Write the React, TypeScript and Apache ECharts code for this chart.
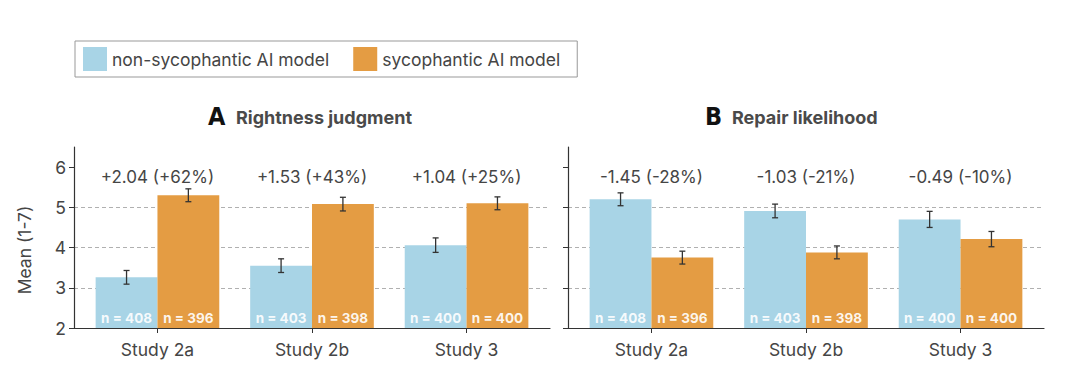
import React, { useEffect, useRef } from "react";
import * as echarts from "echarts";

// ---------- data ----------
const categories = ["Study 2a", "Study 2b", "Study 3"];
const seriesNames = ["non-sycophantic AI model", "sycophantic AI model"];

const rightnessNonSyc = [3.26, 3.55, 4.06];
const rightnessNonSycErr = [0.17, 0.17, 0.18];
const rightnessSyc = [5.3, 5.08, 5.1];
const rightnessSycErr = [0.16, 0.17, 0.16];
const rightnessNNonSyc = [408, 403, 400];
const rightnessNSyc = [396, 398, 400];
const rightnessDiffLabels = ["+2.04 (+62%)", "+1.53 (+43%)", "+1.04 (+25%)"];

const repairNonSyc = [5.2, 4.91, 4.7];
const repairNonSycErr = [0.16, 0.17, 0.2];
const repairSyc = [3.75, 3.88, 4.21];
const repairSycErr = [0.16, 0.16, 0.19];
const repairNNonSyc = [408, 403, 400];
const repairNSyc = [396, 398, 400];
const repairDiffLabels = ["-1.45 (-28%)", "-1.03 (-21%)", "-0.49 (-10%)"];

const yTicks = [2, 3, 4, 5, 6];
const xTicks = [0, 1, 2];

// ---------- style ----------
const BLUE = "#a8d4e6";
const ORANGE = "#e49c43";
const TEXT = "#454545";
const AXIS = "#333";
const FONT = "Inter, 'Noto Sans', sans-serif";
const Y_MIN = 2;
const Y_MAX = 6.5;
const BAR_W = 0.4;
const ANNOT_Y = 5.76;

function barRender(side: number, color: string) {
  return (params: any, api: any) => {
    const x = api.value(0);
    const mean = api.value(1);
    const err = api.value(2);
    const n = api.value(3);
    const x0 = side < 0 ? x - BAR_W : x;
    const x1 = side < 0 ? x : x + BAR_W;
    const p0 = api.coord([x0, mean]);
    const p1 = api.coord([x1, Y_MIN]);
    const cx = (p0[0] + p1[0]) / 2;
    const top = api.coord([x0, mean + err])[1];
    const bot = api.coord([x0, mean - err])[1];
    const es = { stroke: AXIS, lineWidth: 1.3 };
    return {
      type: "group",
      children: [
        {
          type: "rect",
          shape: { x: p0[0], y: p0[1], width: p1[0] - p0[0], height: p1[1] - p0[1] },
          style: { fill: color },
        },
        { type: "line", shape: { x1: cx, y1: top, x2: cx, y2: bot }, style: es },
        { type: "line", shape: { x1: cx - 3, y1: top, x2: cx + 3, y2: top }, style: es },
        { type: "line", shape: { x1: cx - 3, y1: bot, x2: cx + 3, y2: bot }, style: es },
        {
          type: "text",
          x: cx,
          y: p1[1] - 10,
          style: {
            text: "n = " + n,
            fill: "rgba(255,255,255,0.92)",
            fontFamily: FONT,
            fontWeight: "bold",
            fontSize: 13.5,
            align: "center",
            verticalAlign: "middle",
          },
        },
      ],
    };
  };
}

function annotRender(labels: string[]) {
  return (params: any, api: any) => {
    const p = api.coord([api.value(0), api.value(1)]);
    return {
      type: "text",
      x: p[0],
      y: p[1],
      style: {
        text: labels[params.dataIndex],
        fill: TEXT,
        fontFamily: FONT,
        fontSize: 17,
        align: "center",
        verticalAlign: "middle",
      },
    };
  };
}

function rows(means: number[], errs: number[], ns: number[]) {
  return means.map((m, i) => [i, m, errs[i], ns[i]]);
}

function xAxisFor(gridIndex: number) {
  return {
    type: "value",
    gridIndex,
    min: -0.54,
    max: 2.54,
    axisLine: { show: true, onZero: false, lineStyle: { color: AXIS, width: 1.2 } },
    axisTick: { show: true, customValues: xTicks, length: 5, lineStyle: { color: AXIS } },
    axisLabel: {
      customValues: xTicks,
      formatter: (v: number) => categories[Math.round(v)],
      fontSize: 17.5,
      color: TEXT,
      fontFamily: FONT,
      margin: 12,
    },
    splitLine: { show: false },
  };
}

function yAxisFor(gridIndex: number, showLabels: boolean) {
  return {
    type: "value",
    gridIndex,
    min: Y_MIN,
    max: Y_MAX,
    interval: 1,
    axisLine: { show: true, onZero: false, lineStyle: { color: AXIS, width: 1.2 } },
    axisTick: { show: true, customValues: yTicks, length: 5, lineStyle: { color: AXIS } },
    axisLabel: {
      show: showLabels,
      customValues: yTicks,
      fontSize: 17.5,
      color: TEXT,
      fontFamily: FONT,
      margin: 8,
    },
    splitLine: {
      show: true,
      showMinLine: false,
      showMaxLine: false,
      lineStyle: { type: [4, 3], color: "#b0b0b0", width: 1 },
    },
  };
}

export default function App() {
  const ref = useRef<HTMLDivElement>(null);
  useEffect(() => {
    if (!ref.current) return;
    const chart = echarts.init(ref.current, undefined, { renderer: "svg" });
    const option: any = {
      animation: false,
      backgroundColor: "#fff",
      textStyle: { fontFamily: FONT },
      legend: {
        left: 75,
        top: 41,
        data: seriesNames,
        icon: "rect",
        itemWidth: 24,
        itemHeight: 24,
        itemGap: 24,
        padding: [6, 17, 6, 8],
        borderColor: "#999",
        borderWidth: 1,
        textStyle: { fontSize: 17.5, color: TEXT, fontFamily: FONT },
      },
      grid: [
        { left: 74, top: 147, width: 476, height: 181 },
        { left: 568, top: 147, width: 476, height: 181 },
      ],
      xAxis: [xAxisFor(0), xAxisFor(1)],
      yAxis: [yAxisFor(0, true), yAxisFor(1, false)],
      series: [
        {
          type: "custom",
          name: seriesNames[0],
          xAxisIndex: 0,
          yAxisIndex: 0,
          itemStyle: { color: BLUE },
          encode: { x: 0, y: 1 },
          data: rows(rightnessNonSyc, rightnessNonSycErr, rightnessNNonSyc),
          renderItem: barRender(-1, BLUE),
        },
        {
          type: "custom",
          name: seriesNames[1],
          xAxisIndex: 0,
          yAxisIndex: 0,
          itemStyle: { color: ORANGE },
          encode: { x: 0, y: 1 },
          data: rows(rightnessSyc, rightnessSycErr, rightnessNSyc),
          renderItem: barRender(1, ORANGE),
        },
        {
          type: "custom",
          name: seriesNames[0],
          xAxisIndex: 1,
          yAxisIndex: 1,
          itemStyle: { color: BLUE },
          encode: { x: 0, y: 1 },
          data: rows(repairNonSyc, repairNonSycErr, repairNNonSyc),
          renderItem: barRender(-1, BLUE),
        },
        {
          type: "custom",
          name: seriesNames[1],
          xAxisIndex: 1,
          yAxisIndex: 1,
          itemStyle: { color: ORANGE },
          encode: { x: 0, y: 1 },
          data: rows(repairSyc, repairSycErr, repairNSyc),
          renderItem: barRender(1, ORANGE),
        },
        {
          type: "custom",
          name: "rightness-diff",
          xAxisIndex: 0,
          yAxisIndex: 0,
          encode: { x: 0, y: 1 },
          data: xTicks.map((i) => [i, ANNOT_Y]),
          renderItem: annotRender(rightnessDiffLabels),
        },
        {
          type: "custom",
          name: "repair-diff",
          xAxisIndex: 1,
          yAxisIndex: 1,
          encode: { x: 0, y: 1 },
          data: xTicks.map((i) => [i, ANNOT_Y]),
          renderItem: annotRender(repairDiffLabels),
        },
      ],
      graphic: [
        {
          type: "text",
          x: 24.5,
          y: 250,
          rotation: Math.PI / 2,
          style: {
            text: "Mean (1-7)",
            fill: TEXT,
            fontFamily: FONT,
            fontSize: 17.5,
            align: "center",
            verticalAlign: "middle",
          },
        },
        {
          type: "text",
          x: 208,
          y: 116,
          style: {
            text: "A",
            fill: "#111",
            fontFamily: "'DejaVu Sans Condensed', 'Liberation Sans Narrow', 'DejaVu Sans', sans-serif",
            fontWeight: "bold",
            fontSize: 25,
            align: "left",
            verticalAlign: "middle",
          },
        },
        {
          type: "text",
          x: 236,
          y: 117,
          style: {
            text: "Rightness judgment",
            fill: "#4a4a4a",
            fontFamily: FONT,
            fontWeight: "bold",
            fontSize: 18,
            align: "left",
            verticalAlign: "middle",
          },
        },
        {
          type: "text",
          x: 705,
          y: 116,
          style: {
            text: "B",
            fill: "#111",
            fontFamily: "'DejaVu Sans Condensed', 'Liberation Sans Narrow', 'DejaVu Sans', sans-serif",
            fontWeight: "bold",
            fontSize: 25,
            align: "left",
            verticalAlign: "middle",
          },
        },
        {
          type: "text",
          x: 732,
          y: 117,
          style: {
            text: "Repair likelihood",
            fill: "#4a4a4a",
            fontFamily: FONT,
            fontWeight: "bold",
            fontSize: 18,
            align: "left",
            verticalAlign: "middle",
          },
        },
      ],
    };
    chart.setOption(option);
    return () => chart.dispose();
  }, []);
  return (
    <div
      ref={ref}
      style={{ position: "absolute", left: 0, top: 0, width: 1080, height: 376, background: "#fff" }}
    />
  );
}
